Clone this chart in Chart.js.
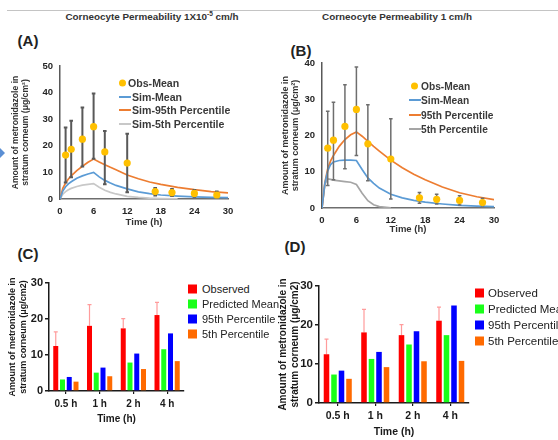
<!DOCTYPE html>
<html>
<head>
<meta charset="utf-8">
<script src="https://cdn.jsdelivr.net/npm/chart.js@4/dist/chart.umd.min.js"></script>
<style>
  body { margin: 0; width: 558px; height: 440px; overflow: hidden; background: #fff; position: relative;
         font-family: "Liberation Sans", Arial, sans-serif; }
  canvas { position: absolute; }
  .txt { position: absolute; white-space: nowrap; transform: translate(-50%, -50%); }
  .title { font-weight: bold; font-size: 9.9px; color: #333; }
  .panel { font-weight: bold; font-size: 15px; color: #222; }
  .rule { position: absolute; left: 7px; top: 10px; width: 551px; height: 1px; background: #c4c4c4; }
  .arrow { position: absolute; left: 0; top: 148px; width: 0; height: 0;
           border-left: 5px solid #5b8fd4; border-top: 5px solid transparent; border-bottom: 5px solid transparent; }
  .leg { position: absolute; white-space: nowrap; }
  .leg span { position: absolute; transform: translateY(-50%); }
</style>
</head>
<body>
<div class="rule"></div>
<div class="arrow"></div>
<div class="txt title" style="left:152px; top:16px;">Corneocyte Permeability 1X10<sup style="font-size:6.5px">-5</sup> cm/h</div>
<div class="txt title" style="left:397px; top:16px;">Corneocyte Permeability 1 cm/h</div>
<div class="txt panel" style="left:28px; top:40px;">(A)</div>
<div class="txt panel" style="left:301px; top:50px;">(B)</div>
<div class="txt panel" style="left:28px; top:253px;">(C)</div>
<div class="txt panel" style="left:295px; top:246px;">(D)</div>

<canvas id="chartA" width="245" height="185" style="left:0; top:50px;"></canvas>
<canvas id="chartB" width="240" height="190" style="left:270px; top:45px;"></canvas>
<canvas id="chartC" width="186" height="180" style="left:0; top:260px;"></canvas>
<canvas id="chartD" width="215" height="185" style="left:270px; top:255px;"></canvas>

<div id="legA" class="leg"></div>
<div id="legB" class="leg"></div>
<div id="legC" class="leg"></div>
<div id="legD" class="leg"></div>

<script>
// observed skin data, time in hours
const obsTime = [1, 2, 4, 6, 8, 12, 17, 20, 24, 28];
const obsMean = [16.5, 18.7, 22.5, 27.2, 17.7, 13.5, 2.8, 2.4, 2.1, 1.5];
const obsLowA = [6.2, 8.2, 12.2, 15.1, 5.5, 2.5, 1.3, 1.1, 0.8, 0.6];
const obsHighA = [26.9, 29.4, 34.4, 39.7, 25.6, 24.5, 4.1, 3.8, 3.4, 2.8];
const obsLowB = [6.2, 7.8, 10.8, 14.5, 7.5, 2.5, 1.3, 1.1, 0.8, 0.6];
const obsHighB = [26.7, 29.2, 34.0, 38.9, 28.5, 24.6, 4.3, 3.8, 3.4, 2.7];

// simulated profiles
const simTime = [0, 0.5, 1, 1.5, 2, 3, 4, 5, 6, 7, 8, 9, 10, 12, 14, 16, 18, 21, 24, 27, 30];
const simMeanA = [0, 3.0, 4.6, 5.7, 6.5, 7.8, 8.7, 9.4, 10.0, 8.3, 7.0, 6.0, 5.1, 3.8, 2.7, 2.0, 1.5, 1.1, 0.8, 0.6, 0.5];
const sim95A = [0, 4.0, 6.0, 7.5, 8.7, 10.7, 12.3, 13.8, 15.0, 13.9, 12.9, 11.9, 11.0, 9.0, 7.6, 6.4, 5.5, 4.4, 3.5, 2.8, 2.3];
const sim5A = [0, 1.8, 2.8, 3.5, 4.0, 4.7, 5.2, 5.5, 5.8, 4.4, 3.3, 2.5, 1.9, 1.0, 0.6, 0.3, 0.15, 0.02, null, null, null];
const simMeanB = [0, 6.8, 10.2, 12.0, 12.7, 13.1, 13.2, 13.2, 13.1, 10.6, 8.3, 6.8, 5.5, 3.8, 2.8, 2.1, 1.6, 1.1, 0.7, 0.5, 0.4];
const sim95B = [0, 7.0, 10.8, 13.0, 14.5, 17.0, 18.9, 20.2, 21.0, 19.8, 18.4, 17.0, 15.7, 13.2, 11.1, 9.3, 7.8, 5.8, 4.2, 3.1, 2.3];
const sim5B = [0, 6.5, 8.0, 7.9, 7.7, 7.5, 7.3, 7.1, 6.5, 4.1, 2.0, 0.9, 0.4, 0.03, null, null, null, null, null, null, null];

// bar panels
const barCats = ["0.5 h", "1 h", "2 h", "4 h"];
const observed = [12.5, 18.1, 17.4, 21.1];
const observedTop = [16.4, 24.0, 20.1, 24.6];
const predMeanC = [3.2, 5.1, 7.9, 11.6];
const p95C = [3.9, 6.5, 10.4, 16.0];
const p5C = [2.6, 4.1, 6.1, 8.3];
const predMeanD = [7.3, 11.3, 15.0, 17.4];
const p95D = [8.3, 13.1, 18.4, 25.0];
const p5D = [6.2, 9.2, 10.7, 10.8];

const FONT = "'Liberation Sans', Arial, sans-serif";
Chart.defaults.font.family = FONT;

// vertical error bars, drawn under the marks of the dataset
const errorBars = {
  id: "errorBars",
  beforeDatasetDraw(chart, args) {
    const ds = chart.data.datasets[args.index];
    if (!ds.errHigh) return;
    const ctx = chart.ctx;
    const y = chart.scales.y;
    ctx.save();
    ctx.strokeStyle = ds.errColor;
    ctx.lineWidth = ds.errWidth;
    args.meta.data.forEach((el, i) => {
      const top = y.getPixelForValue(ds.errHigh[i]);
      const bottom = ds.errLow ? y.getPixelForValue(ds.errLow[i]) : el.y;
      ctx.beginPath();
      ctx.moveTo(el.x, bottom);
      ctx.lineTo(el.x, top);
      ctx.moveTo(el.x - ds.errCap, top);
      ctx.lineTo(el.x + ds.errCap, top);
      if (ds.errLow) {
        ctx.moveTo(el.x - ds.errCap, bottom);
        ctx.lineTo(el.x + ds.errCap, bottom);
      }
      ctx.stroke();
    });
    ctx.restore();
  },
};

function obsSet(low, high, errColor, errWidth) {
  return {
    label: "Obs-Mean",
    data: obsTime.map((t, i) => ({ x: t, y: obsMean[i] })),
    showLine: false,
    pointRadius: 3.6,
    pointBackgroundColor: "#ffc000",
    pointBorderWidth: 0,
    errLow: low, errHigh: high, errColor, errWidth, errCap: 1.8,
  };
}

function simSet(label, values, color) {
  return {
    label,
    data: simTime.map((t, i) => ({ x: t, y: values[i] })),
    borderColor: color,
    borderWidth: 1.7,
    pointRadius: 0,
    tension: 0,
    spanGaps: false,
  };
}

function timeCourse(id, datasets, yMax, o) {
  const tickFont = { size: 9.5, weight: "bold" };
  return new Chart(document.getElementById(id), {
    type: "line",
    data: { datasets },
    plugins: [errorBars],
    options: {
      responsive: false,
      animation: false,
      events: [],
      layout: { padding: o.pad },
      plugins: { legend: { display: false }, tooltip: { enabled: false } },
      scales: {
        x: {
          type: "linear", min: 0, max: 30,
          ticks: { stepSize: 6, padding: o.xTickPad, color: "#262626", font: tickFont },
          grid: { display: false, drawTicks: false },
          border: { color: "#6e6e6e", width: 1.5 },
          title: { display: true, text: "Time (h)", color: "#333", font: { size: 9.5, weight: "bold" },
                   padding: { top: 0, bottom: o.xTitlePad } },
          afterFit: (s) => { s.height = o.xHeight; },
        },
        y: {
          min: 0, max: yMax,
          ticks: { stepSize: 10, padding: 7, color: "#262626", font: tickFont },
          grid: { display: false, drawTicks: false },
          border: { color: "#595959", width: 1.5 },
          title: { display: true, text: ["Amount of metronidazole in", "stratum corneum (μg/cm²)"],
                   color: "#333", font: { size: o.yTitleSize, weight: "bold", lineHeight: 1.15 },
                   padding: { top: 4, bottom: 0 } },
          afterFit: (s) => { s.width = o.yWidth; },
        },
      },
    },
  });
}

function barSet(label, data, color) {
  return { label, data, backgroundColor: color, barPercentage: 0.74, categoryPercentage: 0.8 };
}

function barPanel(id, mean, p95, p5, o) {
  return new Chart(document.getElementById(id), {
    type: "bar",
    data: {
      labels: barCats,
      datasets: [
        Object.assign(barSet("Observed", observed, "#ff0000"),
          { errHigh: observedTop, errColor: "#ff9c9c", errWidth: 1.2, errCap: 2 }),
        barSet("Predicted Mean", mean, "#19ff19"),
        barSet("95th Percentile", p95, "#0000ff"),
        barSet("5th Percentile", p5, "#ff6a00"),
      ],
    },
    plugins: [errorBars],
    options: {
      responsive: false,
      animation: false,
      events: [],
      layout: { padding: o.pad },
      plugins: { legend: { display: false }, tooltip: { enabled: false } },
      scales: {
        x: {
          ticks: { padding: o.xTickPad, color: "#1a1a1a", font: { size: o.tickSize, weight: "bold" } },
          grid: { display: true, drawOnChartArea: false, offset: false, tickLength: 3, color: "#1a1a1a", lineWidth: 1.2 },
          border: { color: "#1a1a1a", width: 1.5 },
          title: { display: true, text: "Time (h)", color: "#1a1a1a", font: { size: o.tickSize, weight: "bold" },
                   padding: { top: 0, bottom: o.xTitlePad } },
          afterFit: (s) => { s.height = o.xHeight; },
        },
        y: {
          min: 0, max: 30,
          ticks: { stepSize: 10, padding: 2, color: "#1a1a1a", font: { size: o.tickSize + 1, weight: "bold" } },
          grid: { display: true, drawOnChartArea: false, tickLength: 4, color: "#1a1a1a", lineWidth: 1.5 },
          border: { color: "#1a1a1a", width: 1.5 },
          title: { display: true, text: ["Amount of metronidazole in", "stratum corneum (μg/cm2)"],
                   color: "#1a1a1a", font: { size: o.yTitleSize, weight: "bold", lineHeight: 1.2 },
                   padding: { top: 4, bottom: 0 } },
          afterFit: (s) => { s.width = o.yWidth; },
        },
      },
    },
  });
}

timeCourse("chartA", [
  obsSet(obsLowA, obsHighA, "#595959", 2),
  simSet("Sim-Mean", simMeanA, "#5b9bd5"),
  simSet("Sim-95th Percentile", sim95A, "#ed7d31"),
  simSet("Sim-5th Percentile", sim5A, "#c8c8c8"),
], 50, { pad: { left: 7, top: 16, right: 17, bottom: 0 }, yWidth: 53, xHeight: 36, xTickPad: 7, xTitlePad: 7, yTitleSize: 8.6 });

timeCourse("chartB", [
  obsSet(obsLowB, obsHighB, "#6e6e6e", 1.5),
  simSet("Sim-Mean", simMeanB, "#5b9bd5"),
  simSet("95th Percentile", sim95B, "#ed7d31"),
  simSet("5th Percentile", sim5B, "#a5a5a5"),
], 40, { pad: { left: 6, top: 18, right: 16, bottom: 0 }, yWidth: 46, xHeight: 27, xTickPad: 7, xTitlePad: 0, yTitleSize: 9 });

barPanel("chartC", predMeanC, p95C, p5C,
  { pad: { left: 3, top: 23, right: 2, bottom: 0 }, yWidth: 46, xHeight: 49, xTickPad: 4, xTitlePad: 15, tickSize: 10, yTitleSize: 9 });

barPanel("chartD", predMeanD, p95D, p5D,
  { pad: { left: 3, top: 31, right: 16, bottom: 0 }, yWidth: 46, xHeight: 37, xTickPad: 4, xTitlePad: 2, tickSize: 10.5, yTitleSize: 10 });

// legends
function lineLegend(id, items, o) {
  const box = document.getElementById(id);
  items.forEach((it, i) => {
    const y = o.top + i * o.step;
    const mark = document.createElement("span");
    if (it.dot) {
      mark.style.cssText = `left:${o.dotX - 3.5}px; top:${y}px; width:7px; height:7px; border-radius:50%; background:${it.color};`;
    } else {
      mark.style.cssText = `left:${o.markX - 6}px; top:${y}px; width:12px; height:2px; background:${it.color};`;
    }
    const label = document.createElement("span");
    label.textContent = it.text;
    label.style.cssText = `left:${it.dot ? o.dotTextX : o.textX}px; top:${y}px; font-weight:bold; font-size:${o.size}px; color:#3a3a3a;`;
    box.append(mark, label);
  });
}

function boxLegend(id, items, o) {
  const box = document.getElementById(id);
  items.forEach((it, i) => {
    const y = o.top + i * o.step;
    const mark = document.createElement("span");
    mark.style.cssText = `left:${o.markX}px; top:${y}px; width:9px; height:9px; background:${it.color};`;
    const label = document.createElement("span");
    label.textContent = it.text;
    label.style.cssText = `left:${o.textX}px; top:${y}px; font-size:${o.size}px; color:#222;`;
    box.append(mark, label);
  });
}

lineLegend("legA", [
  { dot: true, color: "#ffc000", text: "Obs-Mean" },
  { color: "#5b9bd5", text: "Sim-Mean" },
  { color: "#ed7d31", text: "Sim-95th Percentile" },
  { color: "#c8c8c8", text: "Sim-5th Percentile" },
], { top: 83, step: 13.7, dotX: 122, markX: 125, dotTextX: 128, textX: 132, size: 10.6 });

lineLegend("legB", [
  { dot: true, color: "#ffc000", text: "Obs-Mean" },
  { color: "#5b9bd5", text: "Sim-Mean" },
  { color: "#ed7d31", text: "95th Percentile" },
  { color: "#a5a5a5", text: "5th Percentile" },
], { top: 86, step: 14.4, dotX: 414, markX: 415, dotTextX: 421, textX: 421, size: 10.2 });

const barLegend = [
  { color: "#ff0000", text: "Observed" },
  { color: "#19ff19", text: "Predicted Mean" },
  { color: "#0000ff", text: "95th Percentile" },
  { color: "#ff6a00", text: "5th Percentile" },
];
boxLegend("legC", barLegend, { top: 289, step: 15, markX: 188, textX: 202, size: 11 });
boxLegend("legD", barLegend, { top: 293, step: 16, markX: 475, textX: 488, size: 11.5 });
</script>
</body>
</html>
